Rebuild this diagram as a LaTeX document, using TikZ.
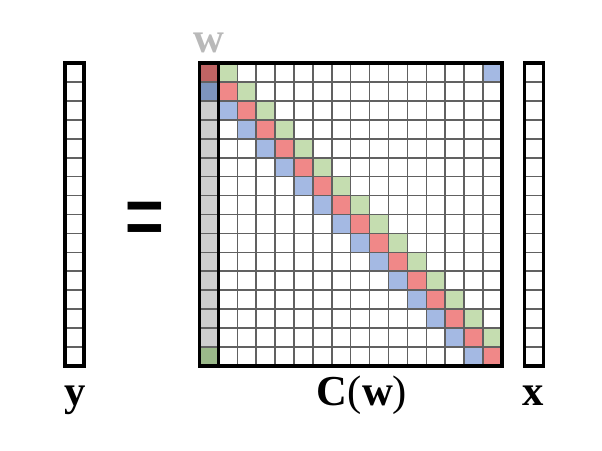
\documentclass[tikz,border=0pt]{standalone}
\usepackage{fontspec}
\setmainfont{Liberation Serif}
\usepackage{tikz}
\usetikzlibrary{calc}

\definecolor{cellred}{RGB}{240,136,136}
\definecolor{cellgreen}{RGB}{197,221,176}
\definecolor{cellblue}{RGB}{164,185,227}
\definecolor{wred}{RGB}{192,100,100}
\definecolor{wblue}{RGB}{125,148,190}
\definecolor{wgreen}{RGB}{155,185,138}
\definecolor{wgrey}{RGB}{206,206,206}
\definecolor{wlabel}{RGB}{185,185,185}

\begin{document}
\begin{tikzpicture}[x=0.75pt,y=-0.75pt,
    gridline/.style={draw=black!62, line width=1.1pt},
    frame/.style={draw=black, line width=2.8pt},
    labelfont/.style={font=\fontsize{32}{36}\selectfont, anchor=base}]
\useasboundingbox (0,0) rectangle (602,450);

       % corners of the matrix and the two vectors
       \coordinate (M) at (199.5,63.3);
       \coordinate (Y) at (65,63.3);
       \coordinate (X) at (524.5,63.3);

       % the three diagonals
       \foreach \i in {1,...,15}
         \fill[cellred] ($(M)+(18.9*\i,18.9*\i)$) rectangle ++(18.9,18.9);
       \foreach \i in {0,...,14}
         \fill[cellgreen] ($(M)+(18.9*\i+18.9,18.9*\i)$) rectangle ++(18.9,18.9);
       \foreach \i in {2,...,15}
         \fill[cellblue] ($(M)+(18.9*\i-18.9,18.9*\i)$) rectangle ++(18.9,18.9);
       \fill[cellblue] ($(M)+(283.5,0)$) rectangle ++(18.9,18.9);

       % first column: the filter w
       \fill[wgrey] ($(M)+(0,37.8)$) rectangle ++(18.9,245.7);
       \fill[wred] (M) rectangle ++(18.9,18.9);
       \fill[wblue] ($(M)+(0,18.9)$) rectangle ++(18.9,18.9);
       \fill[wgreen] ($(M)+(0,283.5)$) rectangle ++(18.9,18.9);

       % grid lines
       \foreach \k in {1,...,15} {
         \draw[gridline] ($(M)+(18.9*\k,0)$) -- ++(0,302.4);
         \draw[gridline] ($(M)+(0,18.9*\k)$) -- ++(302.4,0);
         \draw[gridline] ($(Y)+(0,18.9*\k)$) -- ++(18.9,0);
         \draw[gridline] ($(X)+(0,18.9*\k)$) -- ++(18.9,0);
       }

       % outlines
       \draw[frame] (M) rectangle ++(302.4,302.4);
       \draw[frame] ($(M)+(18.9,0)$) -- ++(0,302.4);
       \draw[frame] (Y) rectangle ++(18.9,302.4);
       \draw[frame] (X) rectangle ++(18.9,302.4);

       % labels
       \node[labelfont](NY) at (75,405) {\textbf{y}};
       \node[labelfont](NC) at (362,405) {\textbf{C}(\textbf{w})};
       \node[labelfont](NX) at (533,405) {\textbf{x}};
       \node[labelfont, text=wlabel](NW) at (209,52) {\textbf{w}};
       \node(EQ) at (145,228) {\fontsize{40}{40}\selectfont\scalebox{1.35}[2.1]{\textbf{=}}};
\end{tikzpicture}
\end{document}
